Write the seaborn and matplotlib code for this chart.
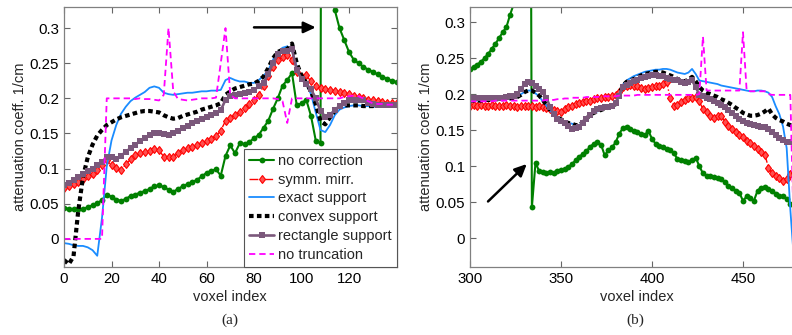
import matplotlib
matplotlib.use('Agg')
import matplotlib.pyplot as plt
import seaborn as sns
import pandas as pd

# ---------------- data : panel (a) ----------------
vox_a = list(range(0, 141, 2))

nc_a = [0.044, 0.043, 0.042, 0.042, 0.043, 0.045, 0.048, 0.051, 0.055, 0.063,
        0.060, 0.056, 0.054, 0.057, 0.061, 0.063, 0.066, 0.068, 0.071, 0.075,
        0.076, 0.074, 0.070, 0.067, 0.071, 0.075, 0.078, 0.081, 0.084, 0.089,
        0.094, 0.097, 0.099, 0.090, 0.118, 0.133, 0.122, 0.136, 0.135, 0.138,
        0.143, 0.148, 0.158, 0.168, 0.185, 0.200, 0.218, 0.226, 0.236, 0.190,
        0.193, 0.198, 0.175, 0.140, 0.136, 3.000, 0.380, 0.326, 0.300, 0.283,
        0.266, 0.255, 0.250, 0.245, 0.241, 0.238, 0.234, 0.231, 0.228, 0.225,
        0.223]
sm_a = [0.072, 0.075, 0.078, 0.081, 0.085, 0.089, 0.093, 0.098, 0.105, 0.112,
        0.105, 0.101, 0.098, 0.106, 0.113, 0.119, 0.122, 0.123, 0.125, 0.128,
        0.126, 0.117, 0.116, 0.117, 0.122, 0.126, 0.129, 0.131, 0.134, 0.137,
        0.139, 0.142, 0.146, 0.154, 0.168, 0.172, 0.177, 0.181, 0.186, 0.192,
        0.198, 0.205, 0.217, 0.232, 0.245, 0.254, 0.259, 0.261, 0.255, 0.238,
        0.230, 0.233, 0.224, 0.218, 0.215, 0.213, 0.212, 0.211, 0.209, 0.208,
        0.206, 0.204, 0.202, 0.200, 0.198, 0.197, 0.196, 0.195, 0.194, 0.193,
        0.193]
ex_a = [-0.006, -0.007, -0.009, -0.010, -0.010, -0.012, -0.016, -0.024, 0.030, 0.103,
        0.140, 0.162, 0.178, 0.188, 0.196, 0.201, 0.205, 0.209, 0.215, 0.217,
        0.215, 0.208, 0.206, 0.205, 0.206, 0.207, 0.208, 0.208, 0.209, 0.210,
        0.210, 0.211, 0.211, 0.212, 0.226, 0.229, 0.226, 0.224, 0.224, 0.222,
        0.222, 0.226, 0.232, 0.240, 0.255, 0.266, 0.272, 0.274, 0.268, 0.245,
        0.229, 0.220, 0.206, 0.180, 0.155, 0.152, 0.162, 0.176, 0.184, 0.187,
        0.189, 0.190, 0.190, 0.189, 0.189, 0.188, 0.188, 0.188, 0.188, 0.188,
        0.188]
cv_a = [-0.030, -0.036, -0.025, 0.040, 0.088, 0.116, 0.134, 0.147, 0.155, 0.162,
        0.166, 0.170, 0.173, 0.175, 0.177, 0.179, 0.181, 0.182, 0.182, 0.181,
        0.180, 0.176, 0.173, 0.171, 0.172, 0.175, 0.177, 0.179, 0.181, 0.184,
        0.186, 0.188, 0.190, 0.193, 0.205, 0.210, 0.214, 0.216, 0.218, 0.220,
        0.221, 0.225, 0.231, 0.243, 0.257, 0.266, 0.269, 0.270, 0.278, 0.250,
        0.232, 0.222, 0.210, 0.192, 0.168, 0.163, 0.173, 0.182, 0.188, 0.190,
        0.190, 0.190, 0.190, 0.189, 0.189, 0.189, 0.190, 0.190, 0.190, 0.190,
        0.190]
rc_a = [0.077, 0.080, 0.084, 0.088, 0.092, 0.096, 0.100, 0.105, 0.110, 0.116,
        0.116, 0.114, 0.118, 0.124, 0.129, 0.134, 0.139, 0.143, 0.148, 0.150,
        0.151, 0.149, 0.148, 0.151, 0.154, 0.158, 0.161, 0.165, 0.168, 0.171,
        0.174, 0.177, 0.179, 0.183, 0.198, 0.203, 0.205, 0.206, 0.207, 0.209,
        0.212, 0.217, 0.222, 0.235, 0.250, 0.263, 0.268, 0.267, 0.270, 0.240,
        0.228, 0.220, 0.213, 0.200, 0.182, 0.174, 0.176, 0.183, 0.189, 0.194,
        0.197, 0.198, 0.198, 0.197, 0.194, 0.192, 0.191, 0.190, 0.190, 0.190,
        0.190]
nt_a = [0.0, 0.0, 0.0, 0.0, 0.0, 0.0, 0.0, 0.0, 0.0, 0.200,
        0.200, 0.200, 0.200, 0.200, 0.200, 0.199, 0.200, 0.199, 0.199, 0.198,
        0.197, 0.205, 0.300, 0.210, 0.199, 0.198, 0.197, 0.198, 0.199, 0.200,
        0.200, 0.200, 0.201, 0.250, 0.300, 0.205, 0.200, 0.200, 0.200, 0.200,
        0.200, 0.200, 0.200, 0.200, 0.200, 0.199, 0.196, 0.165, 0.200, 0.200,
        0.200, 0.200, 0.200, 0.200, 0.200, 0.200, 0.200, 0.200, 0.200, 0.202,
        0.203, 0.204, 0.203, 0.200, 0.196, 0.193, 0.192, 0.192, 0.191, 0.191,
        0.191]

# ---------------- data : panel (b) ----------------
vox_b = list(range(300, 479, 2))

nc_b = [0.235, 0.238, 0.241, 0.245, 0.250, 0.256, 0.263, 0.270, 0.278, 0.286,
        0.293, 0.310, 0.325, 0.360, 0.420, 0.550, 1.500, 0.043, 0.105, 0.093,
        0.092, 0.090, 0.092, 0.090, 0.093, 0.094, 0.096, 0.099, 0.103, 0.108,
        0.113, 0.117, 0.121, 0.127, 0.131, 0.133, 0.130, 0.115, 0.122, 0.126,
        0.133, 0.145, 0.153, 0.155, 0.152, 0.149, 0.147, 0.144, 0.143, 0.149,
        0.138, 0.131, 0.128, 0.126, 0.124, 0.122, 0.118, 0.110, 0.109, 0.107,
        0.106, 0.108, 0.112, 0.100, 0.090, 0.087, 0.086, 0.085, 0.084, 0.082,
        0.078, 0.073, 0.070, 0.066, 0.063, 0.052, 0.058, 0.056, 0.052, 0.066,
        0.070, 0.071, 0.068, 0.066, 0.062, 0.059, 0.058, 0.055, 0.048, 0.045]
sm_b = [0.184, 0.185, 0.183, 0.185, 0.184, 0.183, 0.185, 0.184, 0.183, 0.184,
        0.185, 0.183, 0.184, 0.182, 0.184, 0.183, 0.184, 0.183, 0.182, 0.183,
        0.182, 0.181, 0.180, 0.178, 0.176, 0.175, 0.179, 0.182, 0.184, 0.186,
        0.188, 0.189, 0.190, 0.191, 0.193, 0.194, 0.195, 0.196, 0.196, 0.197,
        0.199, 0.203, 0.210, 0.212, 0.213, 0.212, 0.211, 0.208, 0.207, 0.209,
        0.210, 0.211, 0.212, 0.214, 0.217, 0.195, 0.184, 0.185, 0.189, 0.192,
        0.194, 0.195, 0.196, 0.190, 0.179, 0.175, 0.169, 0.167, 0.170, 0.170,
        0.162, 0.156, 0.152, 0.147, 0.143, 0.140, 0.135, 0.132, 0.128, 0.124,
        0.120, 0.116, 0.098, 0.090, 0.086, 0.083, 0.080, 0.082, 0.089, 0.090]
ex_b = [0.191, 0.191, 0.191, 0.192, 0.192, 0.192, 0.192, 0.193, 0.193, 0.193,
        0.194, 0.194, 0.195, 0.197, 0.200, 0.203, 0.205, 0.205, 0.201, 0.197,
        0.190, 0.184, 0.177, 0.172, 0.168, 0.165, 0.162, 0.160, 0.159, 0.157,
        0.157, 0.161, 0.166, 0.171, 0.174, 0.176, 0.178, 0.180, 0.181, 0.183,
        0.186, 0.200, 0.213, 0.219, 0.222, 0.225, 0.227, 0.229, 0.231, 0.232,
        0.233, 0.234, 0.234, 0.235, 0.235, 0.234, 0.232, 0.230, 0.229, 0.228,
        0.230, 0.235, 0.228, 0.219, 0.218, 0.217, 0.216, 0.215, 0.214, 0.212,
        0.211, 0.210, 0.209, 0.208, 0.207, 0.206, 0.205, 0.204, 0.204, 0.205,
        0.205, 0.204, 0.202, 0.196, 0.183, 0.172, 0.155, 0.125, 0.040, -0.030]
cv_b = [0.191, 0.191, 0.191, 0.191, 0.192, 0.192, 0.192, 0.193, 0.193, 0.193,
        0.194, 0.194, 0.195, 0.196, 0.199, 0.203, 0.205, 0.205, 0.202, 0.198,
        0.192, 0.185, 0.178, 0.172, 0.168, 0.165, 0.162, 0.160, 0.159, 0.157,
        0.157, 0.161, 0.166, 0.171, 0.174, 0.176, 0.178, 0.180, 0.181, 0.183,
        0.186, 0.200, 0.212, 0.217, 0.219, 0.221, 0.223, 0.226, 0.228, 0.229,
        0.230, 0.231, 0.231, 0.230, 0.228, 0.226, 0.224, 0.221, 0.218, 0.218,
        0.220, 0.224, 0.218, 0.210, 0.205, 0.202, 0.200, 0.198, 0.196, 0.193,
        0.191, 0.188, 0.185, 0.181, 0.178, 0.174, 0.172, 0.170, 0.170, 0.171,
        0.173, 0.176, 0.180, 0.172, 0.167, 0.164, 0.162, 0.159, 0.157, 0.156]
rc_b = [0.194, 0.194, 0.194, 0.194, 0.194, 0.194, 0.194, 0.194, 0.194, 0.195,
        0.196, 0.197, 0.198, 0.200, 0.207, 0.214, 0.217, 0.215, 0.211, 0.207,
        0.203, 0.195, 0.182, 0.172, 0.166, 0.163, 0.160, 0.156, 0.152, 0.153,
        0.155, 0.160, 0.166, 0.171, 0.176, 0.179, 0.181, 0.182, 0.182, 0.184,
        0.188, 0.198, 0.210, 0.213, 0.215, 0.218, 0.220, 0.222, 0.224, 0.225,
        0.226, 0.226, 0.225, 0.225, 0.223, 0.221, 0.220, 0.219, 0.217, 0.216,
        0.217, 0.219, 0.210, 0.199, 0.197, 0.195, 0.193, 0.190, 0.188, 0.185,
        0.182, 0.178, 0.174, 0.170, 0.166, 0.163, 0.160, 0.158, 0.157, 0.156,
        0.155, 0.154, 0.152, 0.148, 0.143, 0.139, 0.136, 0.133, 0.133, 0.133]
nt_b = [0.190, 0.190, 0.190, 0.190, 0.190, 0.190, 0.190, 0.191, 0.191, 0.191,
        0.191, 0.191, 0.191, 0.191, 0.191, 0.191, 0.191, 0.191, 0.191, 0.191,
        0.191, 0.192, 0.192, 0.192, 0.193, 0.193, 0.194, 0.194, 0.195, 0.195,
        0.195, 0.195, 0.196, 0.196, 0.196, 0.196, 0.197, 0.197, 0.197, 0.197,
        0.197, 0.198, 0.198, 0.198, 0.198, 0.198, 0.199, 0.199, 0.199, 0.199,
        0.199, 0.199, 0.199, 0.199, 0.199, 0.199, 0.199, 0.199, 0.199, 0.199,
        0.199, 0.199, 0.199, 0.200, 0.280, 0.205, 0.205, 0.205, 0.205, 0.205,
        0.205, 0.205, 0.205, 0.205, 0.205, 0.286, 0.205, 0.204, 0.204, 0.204,
        0.204, 0.204, 0.200, 0.199, 0.199, 0.199, 0.199, 0.199, 0.199, 0.0]

labels = ['no correction', 'symm. mirr.', 'exact support',
          'convex support', 'rectangle support', 'no truncation']
yticks = [0, 0.05, 0.1, 0.15, 0.2, 0.25, 0.3]
yticklabels = ['0', '0.05', '0.1', '0.15', '0.2', '0.25', '0.3']
xticks_a = [0, 20, 40, 60, 80, 100, 120]
xticks_b = [300, 350, 400, 450]

# ---------------- styles ----------------
styles = [
    dict(color='#008000', marker='o', markersize=4.2, linewidth=1.5, linestyle='-',
         markeredgewidth=0, markeredgecolor='#008000'),
    dict(color='#ff0000', marker='d', markersize=4.4, linewidth=1.0, linestyle='-.',
         markeredgewidth=0.8, markeredgecolor='#ff0000', markerfacecolor='#ff5050'),
    dict(color='#1a8cff', marker='', linewidth=1.3, linestyle='-'),
    dict(color='#000000', marker='', linewidth=3.0, linestyle=(0, (1.1, 0.8))),
    dict(color='#7b587b', marker='s', markersize=3.8, linewidth=1.9, linestyle='-',
         markeredgewidth=0, markeredgecolor='#7b587b'),
    dict(color='#ff00ff', marker='', linewidth=1.3, linestyle=(0, (3.5, 2.2))),
]

sns.set_theme(style='ticks')
plt.rcParams['font.family'] = ['Liberation Sans', 'DejaVu Sans']

fig = plt.figure(figsize=(7.92, 3.35), dpi=100)
axA = fig.add_axes([64 / 792, 68 / 335, 332.5 / 792, 260 / 335])
axB = fig.add_axes([470 / 792, 68 / 335, 333 / 792, 260 / 335])

series_a = [nc_a, sm_a, ex_a, cv_a, rc_a, nt_a]
series_b = [nc_b, sm_b, ex_b, cv_b, rc_b, nt_b]

for ax, vox, series in ((axA, vox_a, series_a), (axB, vox_b, series_b)):
    for lab, vals, st in zip(labels, series, styles):
        df = pd.DataFrame({'voxel': vox, 'val': vals})
        sns.lineplot(data=df, x='voxel', y='val', ax=ax, label=lab,
                     legend=False, **st)

axA.set_xlim(0, 140)
axA.set_ylim(-0.04, 0.33)
axB.set_xlim(300, 300 + 333 / 1.82)
axB.set_ylim(-0.04, 0.321)
axA.set_xticks(xticks_a)
axB.set_xticks(xticks_b)

for ax in (axA, axB):
    ax.set_yticks(yticks)
    ax.set_yticklabels(yticklabels)
    ax.tick_params(direction='in', length=4, width=0.8, top=True, right=True,
                   labelsize=10.8, color='#666666', labelcolor='black', pad=3.5)
    for s in ax.spines.values():
        s.set_color('#808080')
        s.set_linewidth(0.9)
    ax.set_xlabel('voxel index', fontsize=10.5, labelpad=3)
    ax.set_ylabel('attenuation coeff. 1/cm', fontsize=10.5, labelpad=2)

h, l = axA.get_legend_handles_labels()
leg = axA.legend(h, l, loc='lower right', borderaxespad=0, fontsize=10.5,
                 frameon=True, fancybox=False, edgecolor='#555555', framealpha=1,
                 labelspacing=0.33, handlelength=1.7, handletextpad=0.25,
                 borderpad=0.35)
leg.get_frame().set_linewidth(0.8)

arrow = dict(arrowstyle='-|>,head_length=0.6,head_width=0.28', color='black',
             lw=1.8, shrinkA=0, shrinkB=0)
axA.annotate('', xy=(106, 0.301), xytext=(80, 0.301), arrowprops=arrow)
axB.annotate('', xy=(331.2, 0.103), xytext=(309.9, 0.051), arrowprops=arrow)

fig.text(230 / 792, 1 - 320 / 335, '(a)', ha='center', va='center',
         family=['Liberation Serif', 'DejaVu Serif'], fontsize=11)
fig.text(635 / 792, 1 - 320 / 335, '(b)', ha='center', va='center',
         family=['Liberation Serif', 'DejaVu Serif'], fontsize=11)

fig.savefig('out.png', dpi=100)
